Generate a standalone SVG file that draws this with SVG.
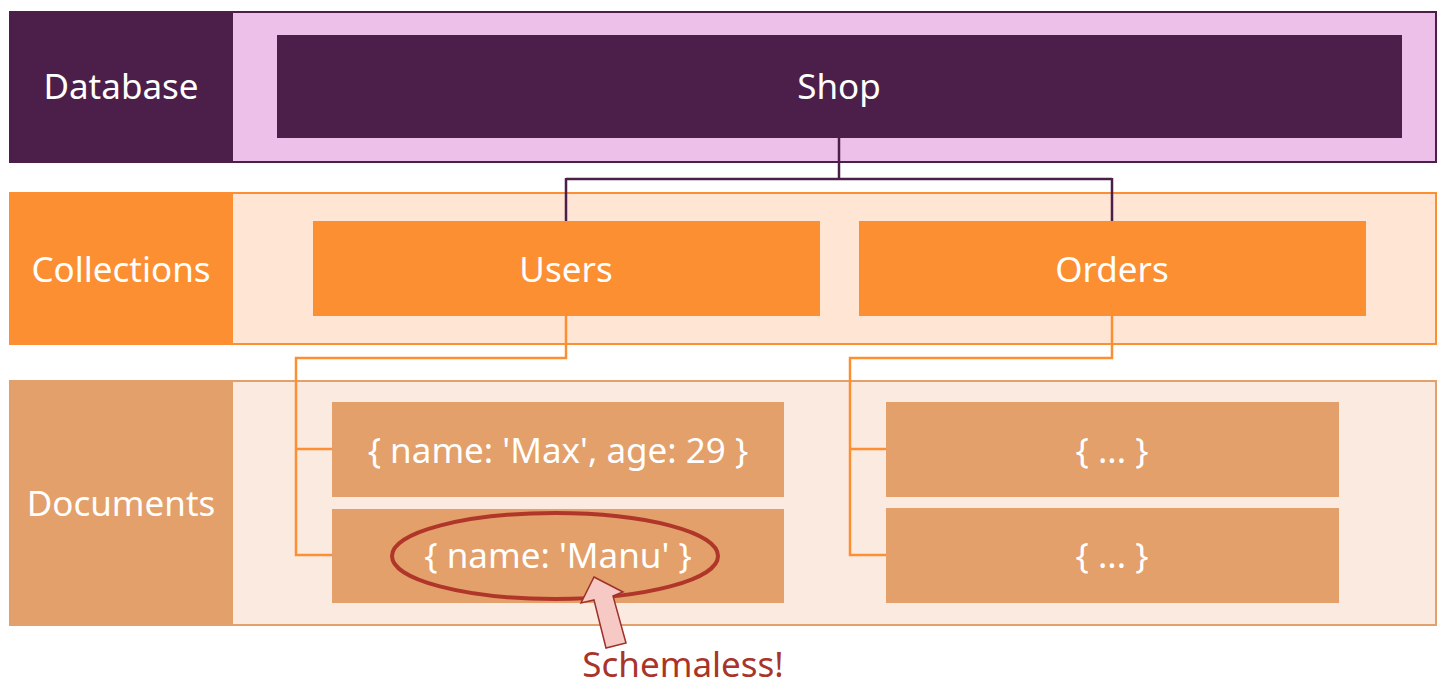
<svg xmlns="http://www.w3.org/2000/svg" width="1450" height="686" viewBox="0 0 1450 686">
<style>
  text { font-family: "Noto Sans", "Lato", "Liberation Sans", sans-serif; font-size: 35px; fill: #ffffff; text-anchor: middle; }
  .purple { fill: #4b1f49; }
  .orange { fill: #fd8f33; }
  .tan { fill: #e3a06a; }
  .conn { fill: none; stroke-width: 2.5; }
</style>
<rect width="1450" height="686" fill="#ffffff"/>

<g id="row-database">
  <rect x="10" y="12" width="1426" height="150" fill="#ecc0e9" stroke="#4b1f49" stroke-width="2"/>
  <rect x="10" y="12" width="223" height="150" class="purple"/>
  <text x="121" y="99">Database</text>
</g>
<g id="row-collections">
  <rect x="10" y="193" width="1426" height="151" fill="#fee5d4" stroke="#fd8f33" stroke-width="2"/>
  <rect x="10" y="193" width="223" height="151" class="orange"/>
  <text x="121" y="282">Collections</text>
</g>
<g id="row-documents">
  <rect x="10" y="381" width="1426" height="244" fill="#fbeae0" stroke="#e3a06a" stroke-width="2"/>
  <rect x="10" y="381" width="223" height="244" class="tan"/>
  <text x="121" y="516">Documents</text>
</g>

<g id="connectors">
  <path class="conn" stroke="#4b1f49" d="M839 138 V179 M566 179 H1112 M566 178 V221 M1112 178 V221"/>
  <path class="conn" stroke="#fd8f33" d="M566 316 V358 H296 V555 H332 M296 449 H332"/>
  <path class="conn" stroke="#fd8f33" d="M1112 316 V358 H850 V555 H886 M850 449 H886"/>
</g>

<g id="node-shop">
  <rect x="277" y="35" width="1125" height="103" class="purple"/>
  <text x="839" y="99">Shop</text>
</g>
<g id="node-users">
  <rect x="313" y="221" width="507" height="95" class="orange"/>
  <text x="566" y="282">Users</text>
</g>
<g id="node-orders">
  <rect x="859" y="221" width="507" height="95" class="orange"/>
  <text x="1112" y="282">Orders</text>
</g>
<g id="node-doc-max">
  <rect x="332" y="402" width="452" height="95" class="tan"/>
  <text x="558" y="463">{ name: 'Max', age: 29 }</text>
</g>
<g id="node-doc-manu">
  <rect x="332" y="509" width="452" height="94" class="tan"/>
  <text x="558" y="568">{ name: 'Manu' }</text>
</g>
<g id="node-doc-order1">
  <rect x="886" y="402" width="453" height="95" class="tan"/>
  <text x="1112" y="463">{ ... }</text>
</g>
<g id="node-doc-order2">
  <rect x="886" y="508" width="453" height="95" class="tan"/>
  <text x="1112" y="568">{ ... }</text>
</g>

<g id="annotation">
  <ellipse cx="555" cy="556" rx="163" ry="43" fill="none" stroke="#b0362a" stroke-width="4"/>
  <polygon points="594,577 623,592 613,596 626,643 606,648 594,600 581,603" fill="#f6c9c5" stroke="#a0302a" stroke-width="1.5" stroke-linejoin="miter"/>
  <text x="683" y="677" style="fill:#a8342a">Schemaless!</text>
</g>
</svg>
